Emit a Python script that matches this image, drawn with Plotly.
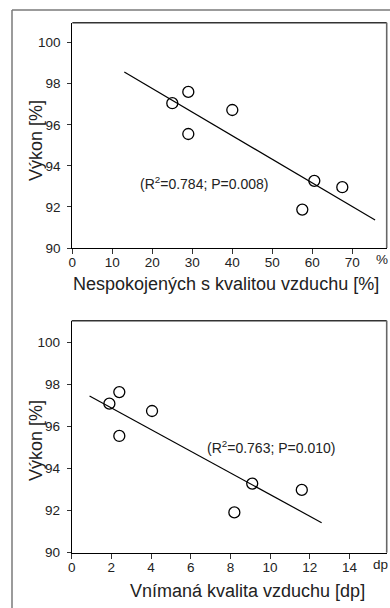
import plotly.graph_objects as go

# ---- data ----
dissatisfied_pct = [25, 29, 29, 40, 57.5, 60.5, 67.5]
performance_top = [97.05, 97.6, 95.55, 96.72, 91.87, 93.27, 92.96]
fit_top_x = [13.0, 75.7]
fit_top_y = [98.57, 91.36]

perceived_dp = [1.9, 2.4, 2.4, 4.05, 8.2, 9.1, 11.6]
performance_bot = [97.1, 97.65, 95.56, 96.75, 91.92, 93.29, 92.99]
fit_bot_x = [0.9, 12.6]
fit_bot_y = [97.46, 91.43]

x_top_ticks = [0, 10, 20, 30, 40, 50, 60, 70]
x_bot_ticks = [0, 2, 4, 6, 8, 10, 12, 14]
y_ticks = [90, 92, 94, 96, 98, 100]

stat_top = "(R<sup>2</sup>=0.784; P=0.008)"
stat_bot = "(R<sup>2</sup>=0.763; P=0.010)"
title_x_top = "Nespokojených s kvalitou vzduchu [%]"
title_x_bot = "Vnímaná kvalita vzduchu [dp]"
title_y = "Výkon [%]"

W, H = 390, 608
FONT = "Liberation Sans, Arial, sans-serif"
TXT = "#222222"

def px(x):
    return x / W

def py(y):
    return 1 - y / H

fig = go.Figure()

marker = dict(symbol="circle-open", size=11, color="black", line=dict(width=1.3, color="black"))
fig.add_trace(go.Scatter(x=fit_top_x, y=fit_top_y, mode="lines", line=dict(color="black", width=1.2),
                         xaxis="x", yaxis="y", showlegend=False, hoverinfo="skip"))
fig.add_trace(go.Scatter(x=dissatisfied_pct, y=performance_top, mode="markers", marker=marker,
                         xaxis="x", yaxis="y", showlegend=False))
fig.add_trace(go.Scatter(x=fit_bot_x, y=fit_bot_y, mode="lines", line=dict(color="black", width=1.2),
                         xaxis="x2", yaxis="y2", showlegend=False, hoverinfo="skip"))
fig.add_trace(go.Scatter(x=perceived_dp, y=performance_bot, mode="markers", marker=marker,
                         xaxis="x2", yaxis="y2", showlegend=False))

tickfont = dict(family=FONT, size=13.5, color=TXT)
common_x = dict(showgrid=False, zeroline=False, showline=True, linecolor="black", linewidth=1,
                ticks="outside", ticklen=5, tickcolor="#333", tickwidth=1, tickfont=tickfont,
                ticklabelstandoff=-3, automargin=False)
common_y = dict(showgrid=False, zeroline=False, showline=True, linecolor="black", linewidth=1,
                ticks="outside", ticklen=4, tickcolor="#333", tickwidth=1, tickfont=tickfont,
                tickvals=y_ticks, ticklabelstandoff=4, automargin=False)

top_l, top_r, top_t, top_b = 72.3, 386.7, 22.7, 248.0
bot_l, bot_r, bot_t, bot_b = 71.7, 386.7, 320.7, 552.7

fig.update_layout(
    width=W, height=H,
    margin=dict(l=0, r=0, t=0, b=0, pad=0, autoexpand=False),
    paper_bgcolor="white", plot_bgcolor="white",
    xaxis=dict(domain=[px(top_l), px(top_r)], range=[0, 78.6], tickvals=x_top_ticks, anchor="y", **common_x),
    yaxis=dict(domain=[py(top_b), py(top_t)], range=[90, 100.97], anchor="x", **common_y),
    xaxis2=dict(domain=[px(bot_l), px(bot_r)], range=[0, 15.88], tickvals=x_bot_ticks, anchor="y2", **common_x),
    yaxis2=dict(domain=[py(bot_b), py(bot_t)], range=[90, 101.05], anchor="x2", **common_y),
)

shapes = []
# outer frame (cropped figure border)
shapes.append(dict(type="line", xref="paper", yref="paper", x0=px(12), x1=1.0, y0=py(10), y1=py(10),
                   line=dict(color="#7a7a7a", width=1.5)))
shapes.append(dict(type="line", xref="paper", yref="paper", x0=px(12), x1=px(12), y0=py(10), y1=0,
                   line=dict(color="#7a7a7a", width=1.5)))
# plot boxes (top and right sides)
for (l, r, t, b) in [(top_l, top_r, top_t, top_b), (bot_l, bot_r, bot_t, bot_b)]:
    shapes.append(dict(type="line", xref="paper", yref="paper", x0=px(l), x1=px(r), y0=py(t), y1=py(t),
                       line=dict(color="#333", width=1.6)))
    shapes.append(dict(type="line", xref="paper", yref="paper", x0=px(r), x1=px(r), y0=py(t), y1=py(b),
                       line=dict(color="#666", width=1.6)))
fig.update_layout(shapes=shapes)

def note(x, y, text, size, xref="paper", yref="paper", angle=0):
    return dict(x=x, y=y, xref=xref, yref=yref, text=text, showarrow=False,
                xanchor="center", yanchor="middle", textangle=angle,
                font=dict(family=FONT, size=size, color=TXT))

ann = [
    note(32.8, 93.18, stat_top, 14, "x", "y"),
    note(10.07, 95.05, stat_bot, 14, "x2", "y2"),
    note(px(381.7), py(259.5), "%", 13.5),
    note(px(380.5), py(564), "dp", 13.5),
    note(px(226), py(284), title_x_top, 18),
    note(px(248), py(591), title_x_bot, 18),
    note(px(36), py(141), title_y, 18, angle=-90),
    note(px(36), py(441), title_y, 18, angle=-90),
]
fig.update_layout(annotations=ann)

fig.write_html(
    "out.html",
    config={"displayModeBar": False},
    post_script="document.body.style.margin='0';document.body.style.overflow='hidden';",
)
